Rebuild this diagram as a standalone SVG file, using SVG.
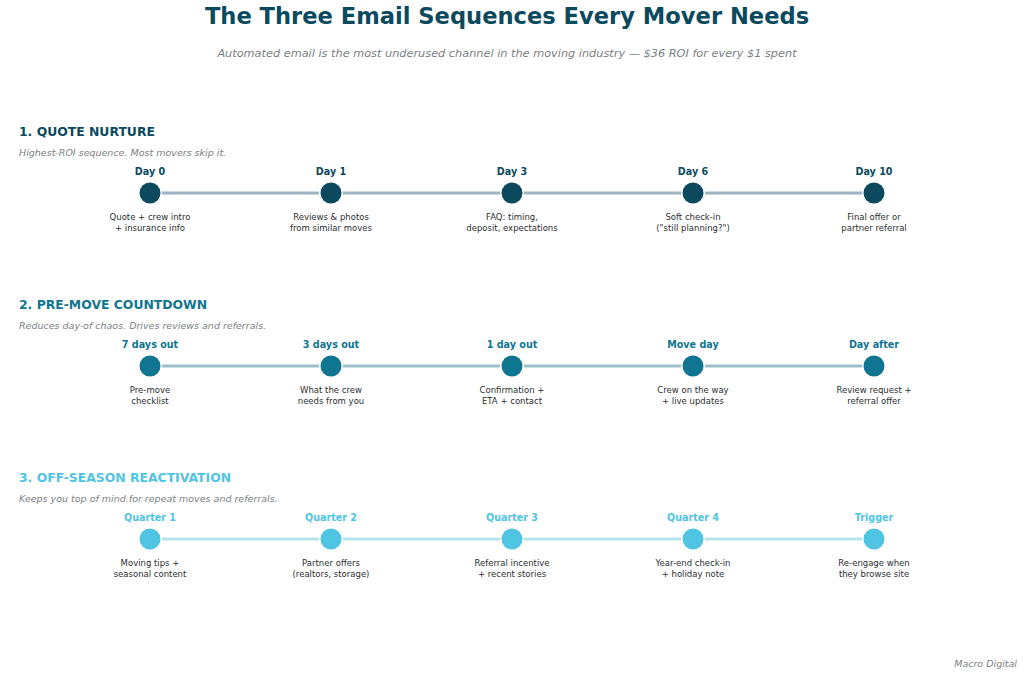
<svg xmlns="http://www.w3.org/2000/svg" width="1024" height="675" viewBox="0 0 1024 675">
<style>
text{font-family:"DejaVu Sans",sans-serif}
.t{font-size:22.6px;font-weight:bold;fill:#0b4a5e;text-anchor:middle}
.st{font-size:11.3px;font-style:italic;fill:#7a7f82;text-anchor:middle}
.h{font-size:12.4px;font-weight:bold}
.d{font-size:9.5px;font-style:italic;fill:#7a7f82}
.lb{font-size:9.6px;font-weight:bold;text-anchor:middle}
.ds{font-size:8.5px;fill:#2b2f31;text-anchor:middle}
.c1{fill:#0b4a5e}.c2{fill:#0f7591}.c3{fill:#4fc4e3}
.l1{stroke:#9db3be;stroke-width:3}.l2{stroke:#9bbfcb;stroke-width:3}.l3{stroke:#b5e4f1;stroke-width:3}
</style>
<rect width="1024" height="675" fill="#fff"/>
<text class="t" x="507" y="24">The Three Email Sequences Every Mover Needs</text>
<text class="st" x="507" y="57">Automated email is the most underused channel in the moving industry — $36 ROI for every $1 spent</text>
<g id="connectors">
<line class="l1" x1="162" y1="193" x2="319" y2="193"/><line class="l1" x1="343" y1="193" x2="500" y2="193"/><line class="l1" x1="524" y1="193" x2="681" y2="193"/><line class="l1" x1="705" y1="193" x2="862" y2="193"/>
<line class="l2" x1="162" y1="366" x2="319" y2="366"/><line class="l2" x1="343" y1="366" x2="500" y2="366"/><line class="l2" x1="524" y1="366" x2="681" y2="366"/><line class="l2" x1="705" y1="366" x2="862" y2="366"/>
<line class="l3" x1="162" y1="539" x2="319" y2="539"/><line class="l3" x1="343" y1="539" x2="500" y2="539"/><line class="l3" x1="524" y1="539" x2="681" y2="539"/><line class="l3" x1="705" y1="539" x2="862" y2="539"/>
</g>
<g id="seq1">
<text class="h c1" x="19" y="136">1. QUOTE NURTURE</text>
<text class="d" x="19" y="156">Highest-ROI sequence. Most movers skip it.</text>
</g>
<g id="n1a"><text class="lb c1" x="150" y="175">Day 0</text><circle class="c1" cx="150" cy="193" r="10.5"/><text class="ds" x="150" y="220">Quote + crew intro</text><text class="ds" x="150" y="231">+ insurance info</text></g>
<g id="n1b"><text class="lb c1" x="331" y="175">Day 1</text><circle class="c1" cx="331" cy="193" r="10.5"/><text class="ds" x="331" y="220">Reviews &amp; photos</text><text class="ds" x="331" y="231">from similar moves</text></g>
<g id="n1c"><text class="lb c1" x="512" y="175">Day 3</text><circle class="c1" cx="512" cy="193" r="10.5"/><text class="ds" x="512" y="220">FAQ: timing,</text><text class="ds" x="512" y="231">deposit, expectations</text></g>
<g id="n1d"><text class="lb c1" x="693" y="175">Day 6</text><circle class="c1" cx="693" cy="193" r="10.5"/><text class="ds" x="693" y="220">Soft check-in</text><text class="ds" x="693" y="231">("still planning?")</text></g>
<g id="n1e"><text class="lb c1" x="874" y="175">Day 10</text><circle class="c1" cx="874" cy="193" r="10.5"/><text class="ds" x="874" y="220">Final offer or</text><text class="ds" x="874" y="231">partner referral</text></g>
<g id="seq2">
<text class="h c2" x="19" y="309">2. PRE-MOVE COUNTDOWN</text>
<text class="d" x="19" y="329">Reduces day-of chaos. Drives reviews and referrals.</text>
</g>
<g id="n2a"><text class="lb c2" x="150" y="348">7 days out</text><circle class="c2" cx="150" cy="366" r="10.5"/><text class="ds" x="150" y="393">Pre-move</text><text class="ds" x="150" y="404">checklist</text></g>
<g id="n2b"><text class="lb c2" x="331" y="348">3 days out</text><circle class="c2" cx="331" cy="366" r="10.5"/><text class="ds" x="331" y="393">What the crew</text><text class="ds" x="331" y="404">needs from you</text></g>
<g id="n2c"><text class="lb c2" x="512" y="348">1 day out</text><circle class="c2" cx="512" cy="366" r="10.5"/><text class="ds" x="512" y="393">Confirmation +</text><text class="ds" x="512" y="404">ETA + contact</text></g>
<g id="n2d"><text class="lb c2" x="693" y="348">Move day</text><circle class="c2" cx="693" cy="366" r="10.5"/><text class="ds" x="693" y="393">Crew on the way</text><text class="ds" x="693" y="404">+ live updates</text></g>
<g id="n2e"><text class="lb c2" x="874" y="348">Day after</text><circle class="c2" cx="874" cy="366" r="10.5"/><text class="ds" x="874" y="393">Review request +</text><text class="ds" x="874" y="404">referral offer</text></g>
<g id="seq3">
<text class="h c3" x="19" y="482">3. OFF-SEASON REACTIVATION</text>
<text class="d" x="19" y="502">Keeps you top of mind for repeat moves and referrals.</text>
</g>
<g id="n3a"><text class="lb c3" x="150" y="521">Quarter 1</text><circle class="c3" cx="150" cy="539" r="10.5"/><text class="ds" x="150" y="566">Moving tips +</text><text class="ds" x="150" y="577">seasonal content</text></g>
<g id="n3b"><text class="lb c3" x="331" y="521">Quarter 2</text><circle class="c3" cx="331" cy="539" r="10.5"/><text class="ds" x="331" y="566">Partner offers</text><text class="ds" x="331" y="577">(realtors, storage)</text></g>
<g id="n3c"><text class="lb c3" x="512" y="521">Quarter 3</text><circle class="c3" cx="512" cy="539" r="10.5"/><text class="ds" x="512" y="566">Referral incentive</text><text class="ds" x="512" y="577">+ recent stories</text></g>
<g id="n3d"><text class="lb c3" x="693" y="521">Quarter 4</text><circle class="c3" cx="693" cy="539" r="10.5"/><text class="ds" x="693" y="566">Year-end check-in</text><text class="ds" x="693" y="577">+ holiday note</text></g>
<g id="n3e"><text class="lb c3" x="874" y="521">Trigger</text><circle class="c3" cx="874" cy="539" r="10.5"/><text class="ds" x="874" y="566">Re-engage when</text><text class="ds" x="874" y="577">they browse site</text></g>
<text class="d" x="1017" y="667" text-anchor="end" font-size="8">Macro Digital</text>
</svg>
